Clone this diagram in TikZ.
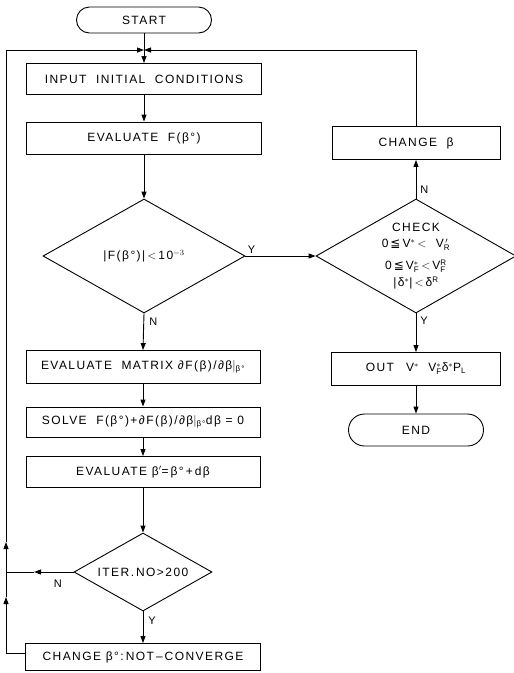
\documentclass[tikz,border=0pt]{standalone}
\usepackage{amsmath}
\usepackage{fontspec}
\setmainfont{Liberation Sans}[LetterSpace=12]
\newfontfamily\symf{DejaVu Sans}
\usetikzlibrary{shapes.geometric,shapes.misc,arrows.meta,positioning}
\tikzset{
  box/.style={draw, line width=0.9pt, rectangle, inner sep=0pt, font=\fontsize{12}{14}\selectfont},
  term/.style={draw, line width=0.9pt, rounded rectangle, inner sep=0pt, font=\fontsize{12}{14}\selectfont},
  dec/.style={draw, line width=0.9pt, diamond, inner sep=0pt},
  dectext/.style={inner sep=0pt, align=center, font=\fontsize{12}{16}\selectfont},
  conn/.style={line width=0.9pt},
  tip/.style={-{Triangle[length=7pt,width=5pt]}},
  lbl/.style={font=\fontsize{11}{13}\selectfont, inner sep=0pt}
}
\newcommand{\leqq}{{\symf ≦}}
\begin{document}
\begin{tikzpicture}[x=1pt,y=-1pt]
\useasboundingbox (0,0) rectangle (514,673);
% left column
\node[term, minimum width=135pt, minimum height=26pt] (start) at (144,20) {START};
\coordinate (M) at (144,50);
\node[box, minimum width=235pt, minimum height=31pt] (input) at (144,79) {INPUT\ \ INITIAL\ \ CONDITIONS};
\node[box, minimum width=235pt, minimum height=32pt] (evalF) at (144,138) {EVALUATE\ \ F(β°)};
\node[dec, minimum width=202pt, minimum height=114pt] (dec1) at (144,256) {};
\node[dectext] (dec1t) at (dec1) {|F(β°)|\,$<$\,10$^{-3}$};
\node[box, minimum width=234pt, minimum height=33pt] (matrix) at (143,367) {EVALUATE\ \ MATRIX\ ∂F(β)/∂β$|_{\text{β°}}$};
\node[box, minimum width=234pt, minimum height=30pt] (solve) at (143,422) {SOLVE\ \ F(β°)+∂F(β)/∂β$|_{\text{β°}}$dβ\ =\ 0};
\node[box, minimum width=234pt, minimum height=31pt] (evalB) at (143,472) {EVALUATE\ β$'$=\,β°\,+\,dβ};
\node[dec, minimum width=138pt, minimum height=78pt] (iter) at (143,572) {};
\node[dectext] (itert) at (iter) {ITER.\,NO>200};
\node[box, minimum width=235pt, minimum height=27pt] (chg0) at (143,657) {CHANGE\ β°:\,NOT\,–\,CONVERGE};
\coordinate (L1) at (6,653);
\coordinate (A1) at (6,597);
\coordinate (L2) at (6,572);
\coordinate (A2) at (6,542);
\coordinate (L3) at (6,50);
\coordinate (A3) at (34,572);
% right column
\node[box, minimum width=168pt, minimum height=33pt] (chgB) at (416,143) {CHANGE\ \ β};
\coordinate (R) at (416,50);
\node[dec, minimum width=200pt, minimum height=114pt] (chk) at (416,256) {};
\node[dectext] (chkt) at (chk) {CHECK\\[0pt]0\,\leqq\,V$^{*}$\,$<$\ \ V$_{\text{R}}^{\,\prime}$\\[6pt]0\,\leqq\,V$_{\text{F}}^{*}$\,$<$\,V$_{\text{F}}^{\text{R}}$\\[1pt]|δ$^{*}$|\,$<$\,δ$^{\text{R}}$};
\node[box, minimum width=169pt, minimum height=33pt] (out) at (416,369) {OUT\quad V$^{*}$\ \ V$_{\text{F}}^{*}$δ$^{*}$P$_{\text{L}}$};
\node[term, minimum width=135pt, minimum height=32pt] (end) at (416,430) {END};
% connectors
\draw[conn] (start.south) -- (M);
\draw[conn,tip] (M) -- (input.north);
\draw[conn,tip] (input.south) -- (evalF.north);
\draw[conn,tip] (evalF.south) -- (dec1.north);
\draw[conn,tip] (dec1.east) -- (chk.west) node[lbl, pos=0, above right=2pt and 2pt] (y1) {Y};
\draw[conn,tip] (dec1.south) -- (matrix.north) node[lbl, pos=0, below right=4pt and 5pt] (n1) {N};
\draw[conn,tip] (matrix.south) -- (solve.north);
\draw[conn,tip] (solve.south) -- (evalB.north);
\draw[conn,tip] (evalB.south) -- (iter.north);
\draw[conn,tip] (iter.south) -- (chg0.north) node[lbl, pos=0, below right=5pt and 5pt] (y2) {Y};
\draw[conn,tip] (iter.west) -- (A3) node[lbl, pos=0.4, below=7pt] (n2) {N};
\draw[conn] (A3) -- (L2);
\draw[conn] (chg0.west |- L1) -- (L1);
\draw[conn,tip] (L1) -- (A1);
\draw[conn] (A1) -- (L2);
\draw[conn,tip] (L2) -- (A2);
\draw[conn] (A2) -- (L3);
\draw[conn,tip] (L3) -- (M);
\draw[conn,tip] (chk.north) -- (chgB.south) node[lbl, pos=0, above right=5pt and 4pt] (n3) {N};
\draw[conn] (chgB.north) -- (R);
\draw[conn,tip] (R) -- (M);
\draw[conn,tip] (chk.south) -- (out.north) node[lbl, pos=0, below right=3pt and 4pt] (y3) {Y};
\draw[conn,tip] (out.south) -- (end.north);
\end{tikzpicture}
\end{document}
